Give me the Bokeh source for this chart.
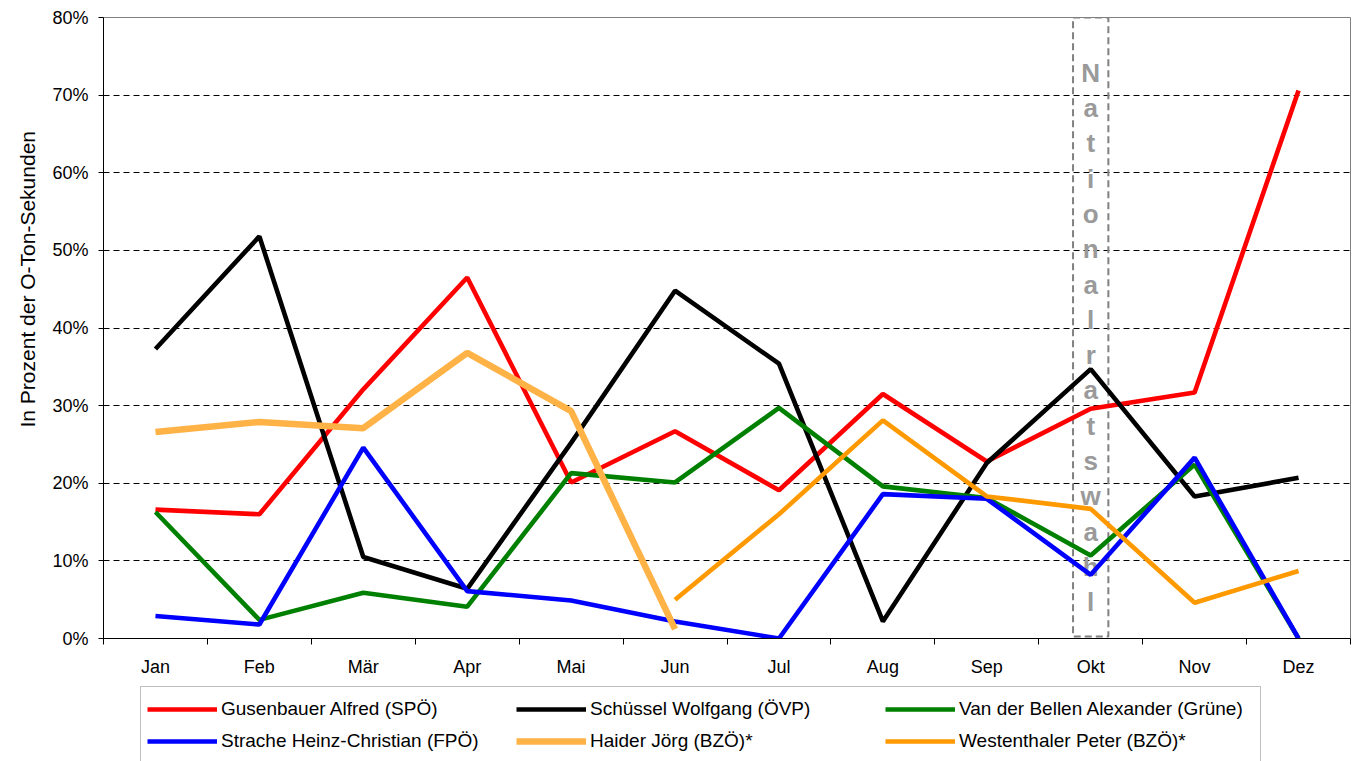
from bokeh.plotting import figure
from bokeh.layouts import column
from bokeh.models import Range1d, FixedTicker, PrintfTickFormatter, Legend, LegendItem, ColumnDataSource, Title
from bokeh.embed import file_html
from bokeh.resources import INLINE
from bokeh.core.properties import value

nan = float("nan")

months = ["Jan", "Feb", "Mär", "Apr", "Mai", "Jun", "Jul", "Aug", "Sep", "Okt", "Nov", "Dez"]
gusenbauer = [16.6, 16.0, 32.1, 46.5, 20.1, 26.7, 19.1, 31.5, 22.8, 29.6, 31.7, 70.6]
schuessel = [37.3, 51.8, 10.5, 6.4, 25.2, 44.8, 35.4, 2.2, 22.6, 34.7, 18.3, 20.7]
vanderbellen = [16.3, 2.4, 5.9, 4.1, 21.3, 20.1, 29.7, 19.6, 18.1, 10.7, 22.4, 0.0]
strache = [2.9, 1.8, 24.6, 6.1, 4.9, 2.2, 0.0, 18.6, 18.0, 8.2, 23.3, 0.0]
haider = [26.6, 27.9, 27.1, 36.8, 29.3, 1.2, nan, nan, nan, nan, nan, nan]
westenthaler = [nan, nan, nan, nan, nan, 5.0, 16.0, 28.1, 18.3, 16.7, 4.6, 8.7]

series_names = [
    "Gusenbauer Alfred (SPÖ)",
    "Schüssel Wolfgang (ÖVP)",
    "Van der Bellen Alexander (Grüne)",
    "Strache Heinz-Christian (FPÖ)",
    "Haider Jörg (BZÖ)*",
    "Westenthaler Peter (BZÖ)*",
]
y_ticks = [0, 10, 20, 30, 40, 50, 60, 70, 80]
y_label = "In Prozent der O-Ton-Sekunden"
election_month = "Okt"
election_text = "Nationalratswahl"

FONT = "Liberation Sans"

x_pos = [i + 0.5 for i in range(len(months))]

p = figure(
    width=1351, height=679,
    x_range=Range1d(0, len(months)), y_range=Range1d(0, 80),
    output_backend="svg", toolbar_location=None,
    min_border_left=103, min_border_top=17, min_border_right=1, min_border_bottom=40,
)
p.background_fill_color = "white"
p.border_fill_color = "white"
p.outline_line_color = "#808080"
p.outline_line_width = 1

# axes
p.xaxis.ticker = FixedTicker(ticks=x_pos, minor_ticks=list(range(len(months) + 1)))
p.xaxis.major_label_overrides = {x: m for x, m in zip(x_pos, months)}
p.xaxis.major_tick_out = 0
p.xaxis.major_tick_in = 0
p.xaxis.minor_tick_out = 6
p.xaxis.minor_tick_in = 0
p.xaxis.minor_tick_line_color = "black"
p.xaxis.axis_line_color = "black"
p.xaxis.major_label_text_font = FONT
p.xaxis.major_label_text_font_size = "18px"
p.xaxis.major_label_text_color = "black"
p.xaxis.major_label_standoff = 12

p.yaxis.ticker = FixedTicker(ticks=y_ticks)
p.yaxis.formatter = PrintfTickFormatter(format="%d%%")
p.yaxis.major_tick_out = 5
p.yaxis.major_tick_in = 0
p.yaxis.minor_tick_out = 0
p.yaxis.minor_tick_in = 0
p.yaxis.major_tick_line_color = "black"
p.yaxis.axis_line_color = "black"
p.yaxis.major_label_text_font = FONT
p.yaxis.major_label_text_font_size = "18px"
p.yaxis.major_label_text_color = "black"
p.yaxis.major_label_standoff = 10

ytitle = Title(text=y_label, align="left", offset=211, standoff=22,
               text_font=FONT, text_font_size="21px", text_font_style="normal",
               text_color="black")
p.add_layout(ytitle, "left")

p.xgrid.visible = False
p.ygrid.ticker = FixedTicker(ticks=y_ticks[1:-1])
p.ygrid.grid_line_color = "black"
p.ygrid.grid_line_dash = "6 4"
p.ygrid.grid_line_width = 1

# election box
ei = months.index(election_month)
p.quad(left=[x_pos[ei] - 0.17], right=[x_pos[ei] + 0.17], bottom=[0.25], top=[80],
       fill_color=None, line_color="#808080", line_width=2, line_dash="7 4")

letters = list(election_text)
letter_top = 72.9
letter_step = 4.55
p.text(x=[x_pos[ei]] * len(letters), y=[letter_top - i * letter_step for i in range(len(letters))],
       text=letters, text_font=value(FONT), text_font_size="26px", text_font_style="bold",
       text_color="#9a9a9a", text_align="center", text_baseline="middle")

series = [gusenbauer, schuessel, vanderbellen, strache, haider, westenthaler]
colors = ["#FF0000", "#000000", "#008000", "#0000FF", "#FFB347", "#FF9900"]
widths = [4.6, 4.6, 4.6, 4.6, 6.5, 4.6]

# legend strip below the chart (same data sources, out of its view)
lp = figure(
    width=1351, height=82,
    x_range=Range1d(100, 101), y_range=Range1d(100, 101),
    output_backend="svg", toolbar_location=None,
    min_border_left=0, min_border_top=0, min_border_right=0, min_border_bottom=0,
)
lp.axis.visible = False
lp.grid.visible = False
lp.outline_line_color = None
lp.background_fill_color = "white"
lp.border_fill_color = "white"

items = []
for name, vals, c, w in zip(series_names, series, colors, widths):
    src = ColumnDataSource(dict(x=x_pos, y=vals))
    p.line("x", "y", source=src, line_color=c, line_width=w)
    r2 = lp.line("x", "y", source=src, line_color=c, line_width=w)
    items.append(LegendItem(label=name, renderers=[r2]))

legend = Legend(
    items=items, orientation="horizontal", ncols=3,
    location=(37, -3),
    label_text_font=FONT, label_text_font_size="19px", label_text_color="black",
    glyph_width=70, glyph_height=32, label_standoff=4, label_width=295, label_height=24,
    spacing=0, padding=6, margin=0,
    border_line_color="#808080", border_line_width=1,
    background_fill_color="white", background_fill_alpha=1.0,
)
lp.add_layout(legend, "center")

layout = column(p, lp, spacing=0)
open("out.html", "w").write(file_html(layout, INLINE))
